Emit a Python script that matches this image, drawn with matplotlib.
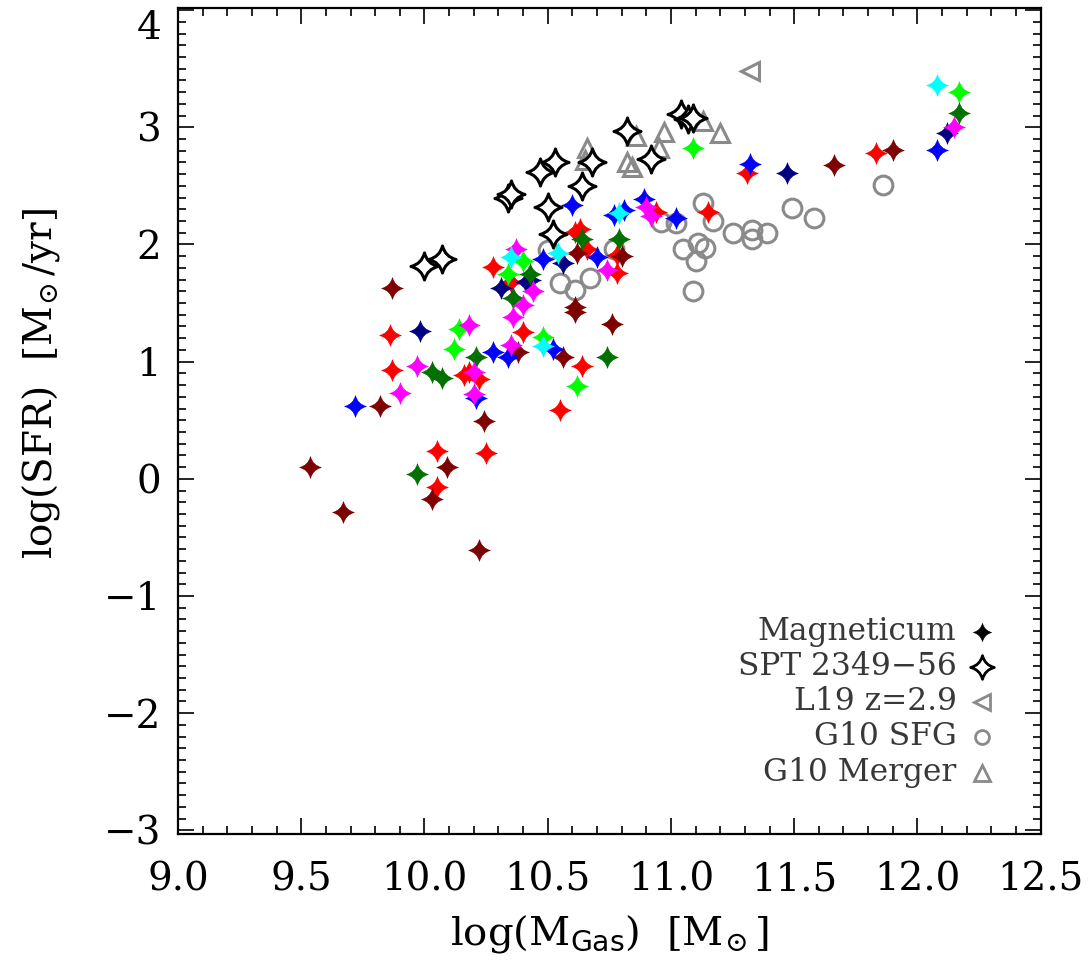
import numpy as np
import matplotlib
matplotlib.use('Agg')
import matplotlib.pyplot as plt
from matplotlib.path import Path
from matplotlib.ticker import MultipleLocator, FormatStrFormatter

plt.rcParams['font.family'] = 'DejaVu Serif'
plt.rcParams['mathtext.fontset'] = 'dejavuserif'

# ---- Magneticum galaxies, one colour per simulated cluster ----
red_x = [9.87, 9.86, 10.16, 10.18, 10.22, 10.25, 10.05, 10.05, 10.40, 10.35, 10.28,
         10.64, 10.55, 10.61, 10.63, 10.66, 10.78, 10.78, 10.94, 11.15, 11.31, 11.83]
red_y = [0.93, 1.23, 0.89, 0.91, 0.85, 0.22, 0.24, -0.07, 1.25, 1.68, 1.81,
         0.96, 0.59, 2.11, 2.13, 1.96, 1.91, 1.76, 2.28, 2.28, 2.61, 2.78]

darkred_x = [9.535, 9.67, 9.82, 9.87, 10.24, 10.09, 10.03, 10.22, 10.38, 10.56, 10.76,
             10.61, 10.61, 10.62, 10.80, 11.66, 11.90]
darkred_y = [0.10, -0.28, 0.62, 1.63, 0.49, 0.10, -0.17, -0.61, 1.08, 1.04, 1.32,
             1.47, 1.42, 1.93, 1.90, 2.68, 2.81]

blue_x = [9.72, 10.21, 10.28, 10.34, 10.52, 10.48, 10.70, 10.60, 10.77, 10.81, 10.89,
          11.02, 11.32, 12.08]
blue_y = [0.62, 0.69, 1.08, 1.04, 1.11, 1.88, 1.89, 2.34, 2.25, 2.29, 2.39,
          2.23, 2.69, 2.81]

navy_x = [9.98, 10.31, 10.41, 10.43, 10.56, 11.47, 12.12]
navy_y = [1.26, 1.63, 1.68, 1.70, 1.84, 2.61, 2.95]

lime_x = [10.12, 10.14, 10.40, 10.34, 10.48, 10.62, 11.09, 12.17]
lime_y = [1.11, 1.28, 1.86, 1.75, 1.21, 0.79, 2.82, 3.30]

dgreen_x = [10.03, 10.07, 10.21, 9.97, 10.36, 10.43, 10.64, 10.79, 10.74, 12.17]
dgreen_y = [0.91, 0.86, 1.04, 0.04, 1.54, 1.75, 2.05, 2.05, 1.04, 3.12]

magenta_x = [9.90, 9.97, 10.18, 10.20, 10.20, 10.35, 10.36, 10.40, 10.44, 10.37,
             10.74, 10.90, 10.92, 12.15]
magenta_y = [0.73, 0.96, 1.31, 0.91, 0.72, 1.14, 1.38, 1.48, 1.60, 1.96,
             1.78, 2.32, 2.24, 3.00]

cyan_x = [10.35, 10.48, 10.54, 10.79, 12.08]
cyan_y = [1.89, 1.13, 1.93, 2.27, 3.36]

# ---- SPT 2349-56 protocluster members ----
spt_x = [10.00, 10.07, 10.34, 10.35, 10.47, 10.53, 10.50, 10.52, 10.64, 10.68,
         10.82, 10.92, 11.04, 11.07, 11.09]
spt_y = [1.82, 1.88, 2.40, 2.43, 2.62, 2.70, 2.32, 2.09, 2.50, 2.70,
         2.97, 2.73, 3.11, 3.07, 3.08]

# ---- comparison samples ----
l19_x = [11.32]
l19_y = [3.48]

g10_sfg_x = [10.55, 10.61, 10.67, 10.50, 10.77, 10.96, 11.02, 11.13, 11.17, 11.25,
             11.33, 11.33, 11.39, 11.49, 11.58, 11.86, 11.05, 11.11, 11.14, 11.10, 11.09]
g10_sfg_y = [1.67, 1.61, 1.71, 1.95, 1.96, 2.19, 2.18, 2.35, 2.20, 2.10,
             2.12, 2.05, 2.10, 2.31, 2.23, 2.51, 1.96, 2.01, 1.97, 1.86, 1.60]

g10_mer_x = [10.66, 10.65, 10.86, 10.97, 10.95, 10.82, 10.84, 11.13, 11.20]
g10_mer_y = [2.82, 2.72, 2.93, 2.96, 2.82, 2.70, 2.66, 3.05, 2.95]

magneticum = [
    (red_x, red_y, '#ff0000'),
    (darkred_x, darkred_y, '#7f0000'),
    (blue_x, blue_y, '#0000ff'),
    (navy_x, navy_y, '#000080'),
    (lime_x, lime_y, '#00ff00'),
    (dgreen_x, dgreen_y, '#007000'),
    (magenta_x, magenta_y, '#ff00ff'),
    (cyan_x, cyan_y, '#00ffff'),
]


# 4-pointed star with concave sides
def star4(a=0.2):
    pts = [(0, 1), (1, 0), (0, -1), (-1, 0)]
    verts = [pts[0]]
    codes = [Path.MOVETO]
    for i in range(4):
        p0, p1 = pts[i], pts[(i + 1) % 4]
        verts += [((p0[0] + p1[0]) * a, (p0[1] + p1[1]) * a), p1]
        codes += [Path.CURVE3, Path.CURVE3]
    verts.append(pts[0])
    codes.append(Path.CLOSEPOLY)
    return Path(verts, codes)

STAR = star4()
GRAY = '#8a8a8a'

fig = plt.figure(figsize=(10.92, 9.73), dpi=100)
ax = fig.add_axes([0.163, 0.143, 0.790, 0.849])

ax.plot(g10_sfg_x, g10_sfg_y, 'o', ls='none', ms=13.5, mfc='none', mec=GRAY, mew=2.2)
ax.plot(g10_mer_x, g10_mer_y, '^', ls='none', ms=13.5, mfc='none', mec=GRAY, mew=2.2)
ax.plot(l19_x, l19_y, '<', ls='none', ms=13.5, mfc='none', mec=GRAY, mew=2.2)

for xs, ys, c in magneticum:
    ax.plot(xs, ys, marker=STAR, ls='none', ms=15.5, mfc=c, mec=c, mew=0.5)

ax.plot(spt_x, spt_y, marker=STAR, ls='none', ms=19.5, mfc='white', mec='black', mew=2.2)

ax.set_xlim(9.0, 12.5)
ax.set_ylim(-3.03, 4.02)
ax.xaxis.set_major_locator(MultipleLocator(0.5))
ax.xaxis.set_minor_locator(MultipleLocator(0.1))
ax.xaxis.set_major_formatter(FormatStrFormatter('%.1f'))
ax.set_yticks([-3, -2, -1, 0, 1, 2, 3, 4])
ax.yaxis.set_minor_locator(MultipleLocator(0.1))

ax.tick_params(which='both', direction='in', top=True, right=True, width=1.2, labelsize=28)
ax.tick_params(which='major', length=11.5)
ax.tick_params(which='minor', length=5.5)
ax.tick_params(axis='x', pad=20)
ax.tick_params(axis='y', pad=12)
for s in ax.spines.values():
    s.set_linewidth(1.6)

# keep the top label inside the figure
ax.get_yticklabels()[-1].set_verticalalignment('top')

ax.set_xlabel(r'log(M$_{\mathsf{Gas}}$)  [M$_{\!\odot}$]', fontsize=29, labelpad=10)
ax.set_ylabel(r'log(SFR)  [M$_{\!\odot}$/yr]', fontsize=28)
ax.yaxis.set_label_coords(-0.135, 0.545)

# key in the lower right corner
key = [
    ('Magneticum', dict(marker=STAR, ms=13, mfc='black', mec='black', mew=0.5)),
    ('SPT 2349\u221256', dict(marker=STAR, ms=17, mfc='white', mec='black', mew=2.0)),
    ('L19 z=2.9', dict(marker='<', ms=11, mfc='none', mec=GRAY, mew=2.0)),
    ('G10 SFG', dict(marker='o', ms=10, mfc='none', mec=GRAY, mew=2.0)),
    ('G10 Merger', dict(marker='^', ms=11, mfc='none', mec=GRAY, mew=2.0)),
]
rows_y = [0.2446, 0.2022, 0.1598, 0.1174, 0.0738]
for (label, style), yy in zip(key, rows_y):
    ax.text(0.9027, yy, label, transform=ax.transAxes, ha='right', va='center',
            fontsize=22.5, color='#383838')
    ax.plot([0.9316], [yy], ls='none', transform=ax.transAxes, clip_on=False, **style)

fig.savefig('out.png', dpi=100)
